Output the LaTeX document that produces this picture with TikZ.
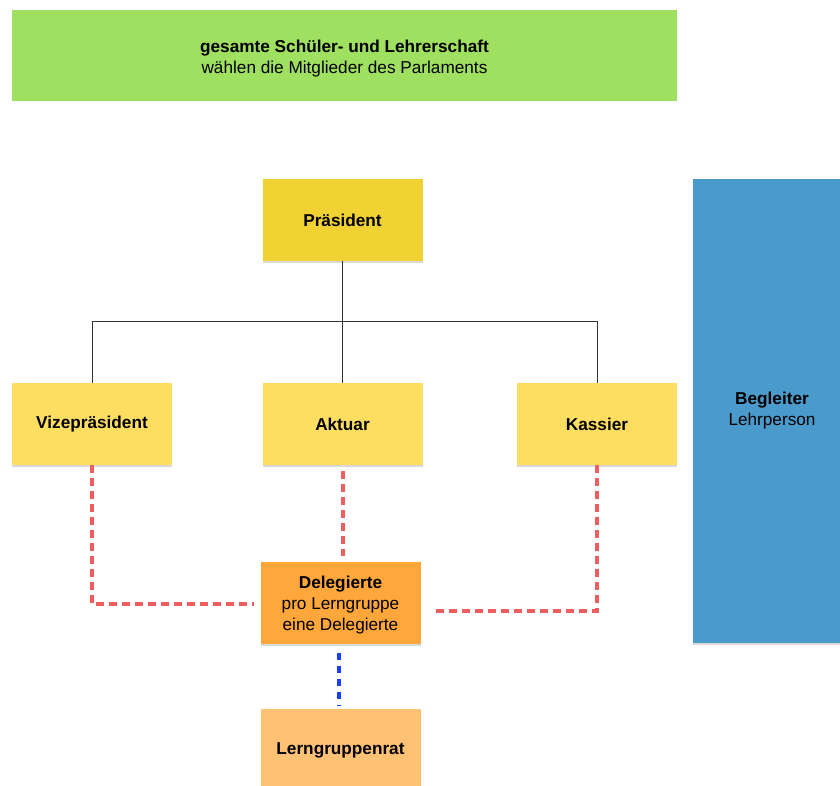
\documentclass[tikz,border=0pt]{standalone}
\usepackage{fontspec}
\setmainfont{Liberation Sans}
\usetikzlibrary{shadows}
\definecolor{cgreen}{HTML}{A0E060}
\definecolor{cpres}{HTML}{F0D232}
\definecolor{cyel}{HTML}{FEDE60}
\definecolor{cblue}{HTML}{4A9BCB}
\definecolor{corange}{HTML}{FFA73B}
\definecolor{clight}{HTML}{FFC173}
\definecolor{cred}{HTML}{EE5E5E}
\definecolor{cbdash}{HTML}{1A3FFF}
\tikzset{
  txt/.style={font=\fontsize{17.2}{21}\selectfont},
  box/.style={rectangle, inner sep=0pt, align=center, txt,
    minimum width=160pt, minimum height=82pt,
    drop shadow={shadow xshift=0pt, shadow yshift=-2pt, opacity=0.15, fill=black}},
  tree/.style={draw=black!80, line width=0.8pt},
  reddash/.style={draw=cred, line width=4pt, dash pattern=on 8pt off 5pt},
  bluedash/.style={draw=cbdash, line width=3.5pt, dash pattern=on 7pt off 6pt},
}
\begin{document}
\begin{tikzpicture}[x=1pt,y=-1pt]
\useasboundingbox (0,0) rectangle (840,785);
\fill[white] (0,0) rectangle (840,785);
\node[rectangle, fill=cgreen, inner sep=0pt, minimum width=665pt, minimum height=91pt, align=center,
  txt] (top) at (344.5,55.5)
  {\rule{0pt}{19pt}\textbf{gesamte Schüler- und Lehrerschaft}\\wählen die Mitglieder des Parlaments};
\node[box, fill=cpres] (pres) at (342.5,220) {\textbf{Präsident}};
\node[box, fill=cyel] (vize) at (92,424) {\textbf{Vizepräsident}};
\node[box, fill=cyel] (akt) at (342.5,424) {\textbf{Aktuar}};
\node[box, fill=cyel] (kass) at (597,424) {\textbf{Kassier}};
\node[box, fill=cblue, minimum width=158pt, minimum height=464pt] (begl) at (772,411)
  {\textbf{Begleiter}\\Lehrperson};
\node[box, fill=corange] (deleg) at (340.5,602.5)
  {\rule{0pt}{17pt}\textbf{Delegierte}\\pro Lerngruppe\\eine Delegierte};
\node[box, fill=clight] (lern) at (340.5,750) {\textbf{Lerngruppenrat}};
\coordinate (bar) at (342.5,321);
\draw[tree] (pres.south) -- (akt.north);
\draw[tree] (vize.north) -- (vize.north |- bar) -- (kass.north |- bar) -- (kass.north);
\draw[reddash, shorten >=6pt] (vize.south) |- ([yshift=-1.5pt]deleg.west);
\draw[reddash, shorten <=6pt, shorten >=5pt] (akt.south) -- (akt.south |- deleg.north);
\draw[reddash, shorten >=12pt] (kass.south) |- ([yshift=-8.5pt]deleg.east);
\draw[bluedash, shorten <=9pt, shorten >=3pt] ([xshift=-1.5pt]deleg.south) -- ([xshift=-1.5pt]lern.north);
\end{tikzpicture}
\end{document}
